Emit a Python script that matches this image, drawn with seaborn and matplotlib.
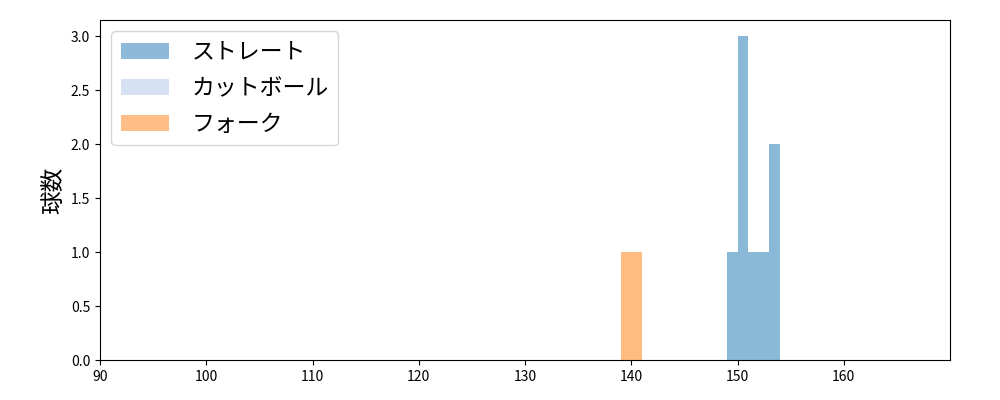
import matplotlib
matplotlib.use('Agg')

import matplotlib.pyplot as plt
from matplotlib.patches import Patch
import seaborn as sns

# pitch speeds (km/h)
straight = [149, 150, 150, 150, 151, 152, 153, 153]
cutball = []
fork = [139, 140]

labels = ['ストレート', 'カットボール', 'フォーク']
colors = ['#1f77b4', '#aec7e8', '#ff7f0e']

plt.rcParams['font.family'] = ['Noto Sans CJK JP', 'DejaVu Sans']

fig, ax = plt.subplots(figsize=(10, 4), dpi=100)
fig.subplots_adjust(left=0.1, right=0.95, top=0.95, bottom=0.1)

for data, label, color in zip([straight, cutball, fork], labels, colors):
    if len(data) == 0:
        continue
    edges = list(range(min(data), max(data) + 2))
    sns.histplot(x=data, bins=edges, color=color, alpha=0.52,
                 linewidth=0, ax=ax, label=label)

handles = [Patch(facecolor=c, alpha=0.5, linewidth=0) for c in colors]
ax.legend(handles, labels, loc='upper left', fontsize=16.5,
          handlelength=2.1, handletextpad=1.0, labelspacing=0.58)

ax.set_xlim(90, 170)
ax.set_xticks(range(90, 170, 10))
ax.set_ylim(0, 3.15)
ax.set_ylabel('球数', fontsize=17)
ax.set_xlabel('')

plt.savefig('out.png')
plt.close()
